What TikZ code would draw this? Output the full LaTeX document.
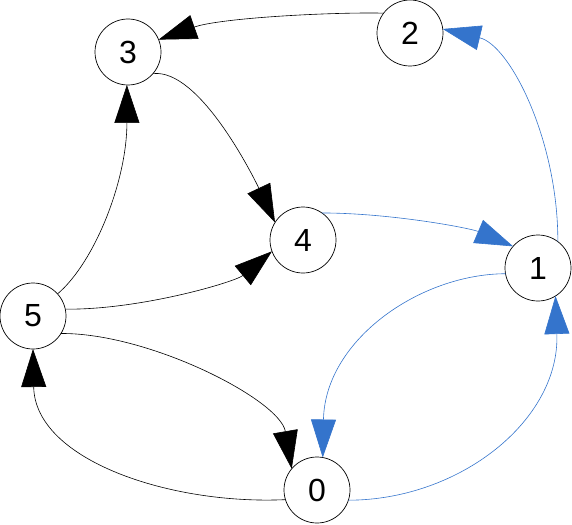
\documentclass[tikz,border=0pt]{standalone}
\usepackage{fontspec}
\setmainfont{Liberation Sans}
\usetikzlibrary{arrows.meta}
\definecolor{eblue}{RGB}{52,116,204}
\tikzset{
  vtx/.style={circle,draw=black,line width=0.7pt,minimum size=66pt,inner sep=0pt,outer sep=0pt,font=\fontsize{32}{38}\selectfont,fill=white},
  bedge/.style={draw=black,line width=0.6pt,-{Triangle[length=38pt,width=25pt]}},
  cedge/.style={draw=eblue,line width=0.6pt,-{Triangle[length=38pt,width=25pt]},fill=none},
}
\begin{document}
\begin{tikzpicture}[x=1pt,y=-1pt]
\useasboundingbox (0,0) rectangle (572,524);
\node[vtx] (n3) at (128,52) {3};
\node[vtx] (n2) at (410,33) {2};
\node[vtx] (n4) at (303,240) {4};
\node[vtx] (n1) at (538,268) {1};
\node[vtx] (n5) at (33,316) {5};
\node[vtx] (n0) at (317,490) {0};
% black edges
\draw[bedge] (n2.143.5) .. controls (330,12) and (220,18) .. (n3.22.8);
\draw[bedge] (n3.-41) .. controls (200,68) and (255,180) .. (n4.148);
\draw[bedge] (n5.42.6) .. controls (95,262) and (127,180) .. (n3.-92);
\draw[bedge] (n5.12) .. controls (140,310) and (235,282) .. (n4.200.6);
\draw[bedge] (n5.-32) .. controls (150,333) and (280,400) .. (n0.140);
\draw[bedge] (n0.197) .. controls (170,505) and (35,460) .. (n5.-90);
% blue edges
\draw[cedge] (n4.55) .. controls (390,213) and (470,228) .. (n1.139);
\draw[cedge] (n1.53) .. controls (558,140) and (510,45) .. (n2.7);
\draw[cedge] (n1.190) .. controls (420,274) and (325,340) .. (n0.80);
\draw[cedge] (n0.-18) .. controls (460,500) and (560,420) .. (n1.-58);
\end{tikzpicture}
\end{document}
